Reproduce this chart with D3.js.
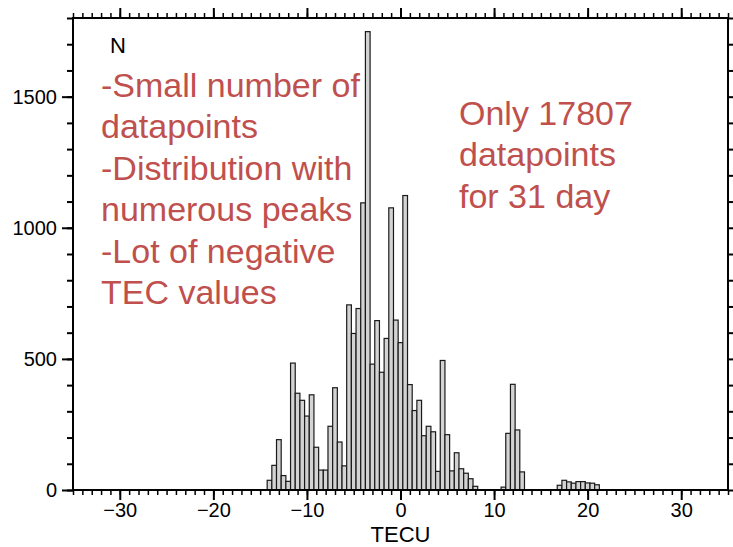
<!DOCTYPE html>
<html>
<head>
<meta charset="utf-8">
<script src="https://cdn.jsdelivr.net/npm/d3@7"></script>
<style>
  body { margin: 0; background: #fff; }
  svg text { font-family: "Liberation Sans", Arial, Helvetica, sans-serif; }
</style>
</head>
<body>
<div id="chart"></div>
<script>
// histogram of TEC values, 0.5 TECU bins (centers + counts)
var binCenters = [
    -14, -13.5, -13, -12.5, -12, -11.5, -11, -10.5, -10, -9.5, -9, -8.5, -8, -7.5, -7, -6.5, -6,
    -5.5, -5, -4.5, -4, -3.5, -3, -2.5, -2, -1.5, -1, -0.5, 0, 0.5, 1, 1.5, 2,
    2.5, 3, 3.5, 4, 4.5, 5, 5.5, 6, 6.5, 7, 7.5, 8,
    11, 11.5, 12, 12.5, 13,
    17, 17.5, 18, 18.5, 19, 19.5, 20, 20.5, 21
];
var binCounts = [
    37, 94, 192, 55, 33, 484, 369, 342, 282, 363, 163, 76, 76, 243, 390, 183, 92,
    706, 597, 692, 1095, 1748, 480, 646, 449, 578, 1076, 648, 562, 1123, 402, 303, 342,
    207, 243, 222, 71, 494, 211, 73, 142, 81, 64, 43, 14,
    11, 216, 403, 229, 69,
    18, 37, 31, 26, 32, 32, 27, 26, 20
];
var binWidth = 0.5;

var xTickLabels = [-30, -20, -10, 0, 10, 20, 30];
var yTickLabels = [0, 500, 1000, 1500];

var notesLeft = ["-Small number of", "datapoints", "-Distribution with",
                 "numerous peaks", "-Lot of negative", "TEC values"];
var notesRight = ["Only 17807", "datapoints", "for 31 day"];

var width = 733, height = 547;
var margin = {left: 73, right: 5, top: 18, bottom: 57};
var noteColor = "#c0504d";

var x = d3.scaleLinear().domain([-35, 35]).range([margin.left, width - margin.right]);
var y = d3.scaleLinear().domain([0, 1800]).range([height - margin.bottom, margin.top]);

var data = binCenters.map(function(c, i) { return {x: c, n: binCounts[i]} });

var svg = d3.select("#chart")
    .append("svg")
        .attr("width", width)
        .attr("height", height);

// bars
svg.append("g")
    .attr("class", "bars")
    .selectAll("rect")
    .data(data)
    .enter()
    .append("rect")
        .attr("x", function(d) { return x(d.x - binWidth / 2) })
        .attr("width", function(d) { return x(d.x + binWidth / 2) - x(d.x - binWidth / 2) })
        .attr("y", function(d) { return y(d.n) })
        .attr("height", function(d) { return y(0) - y(d.n) })
        .attr("fill", "#d3d3d3")
        .attr("stroke", "#1a1a1a")
        .attr("stroke-width", 1.2);

// axes: minor + major ticks on all four sides, labels only bottom/left
function styleAxis(g, w) {
    g.select(".domain").remove();
    g.selectAll(".tick line").attr("stroke", "#000").attr("stroke-width", w);
    g.selectAll(".tick text")
        .attr("fill", "#000")
        .style("font-size", "20px");
}

var xMinor = d3.range(-35, 36, 1);
var yMinor = d3.range(0, 1801, 100);
var fmt = function(d) { return d < 0 ? "\u2212" + Math.abs(d) : d };

svg.append("g")
    .attr("transform", "translate(0," + y(0) + ")")
    .call(d3.axisBottom(x).tickValues(xMinor).tickSize(5).tickFormat(""))
    .call(styleAxis, 1.5);
svg.append("g")
    .attr("transform", "translate(0," + y(0) + ")")
    .call(d3.axisBottom(x).tickValues(xTickLabels).tickSize(10).tickPadding(3).tickFormat(fmt))
    .call(styleAxis, 2);
svg.append("g")
    .attr("transform", "translate(0," + margin.top + ")")
    .call(d3.axisTop(x).tickValues(xMinor).tickSize(5).tickFormat(""))
    .call(styleAxis, 1.5);
svg.append("g")
    .attr("transform", "translate(0," + margin.top + ")")
    .call(d3.axisTop(x).tickValues(xTickLabels).tickSize(10).tickFormat(""))
    .call(styleAxis, 2);

svg.append("g")
    .attr("transform", "translate(" + margin.left + ",0)")
    .call(d3.axisLeft(y).tickValues(yMinor).tickSize(6).tickFormat(""))
    .call(styleAxis, 2);
svg.append("g")
    .attr("transform", "translate(" + margin.left + ",0)")
    .call(d3.axisLeft(y).tickValues(yTickLabels).tickSize(11).tickPadding(5).tickFormat(d3.format("d")))
    .call(styleAxis, 2);
svg.append("g")
    .attr("transform", "translate(" + (width - margin.right) + ",0)")
    .call(d3.axisRight(y).tickValues(yMinor).tickSize(6).tickFormat(""))
    .call(styleAxis, 2);

// frame
svg.append("rect")
    .attr("x", x(-35))
    .attr("y", y(1800))
    .attr("width", x(35) - x(-35))
    .attr("height", y(0) - y(1800))
    .attr("fill", "none")
    .attr("stroke", "#000")
    .attr("stroke-width", 2);

// titles
svg.append("text")
    .attr("x", (x(-35) + x(35)) / 2)
    .attr("y", 542)
    .attr("text-anchor", "middle")
    .style("font-size", "22px")
    .text("TECU");

svg.append("text")
    .attr("x", 110)
    .attr("y", 53)
    .style("font-size", "22px")
    .text("N");

// annotations
svg.append("g")
    .selectAll("text")
    .data(notesLeft)
    .enter()
    .append("text")
        .attr("x", 101)
        .attr("y", function(d, i) { return 97 + i * 41.4 })
        .attr("fill", noteColor)
        .style("font-size", "34px")
        .text(function(d) { return d });

svg.append("g")
    .selectAll("text")
    .data(notesRight)
    .enter()
    .append("text")
        .attr("x", 459)
        .attr("y", function(d, i) { return 125 + i * 41.4 })
        .attr("fill", noteColor)
        .style("font-size", "34px")
        .text(function(d) { return d });
</script>
</body>
</html>
